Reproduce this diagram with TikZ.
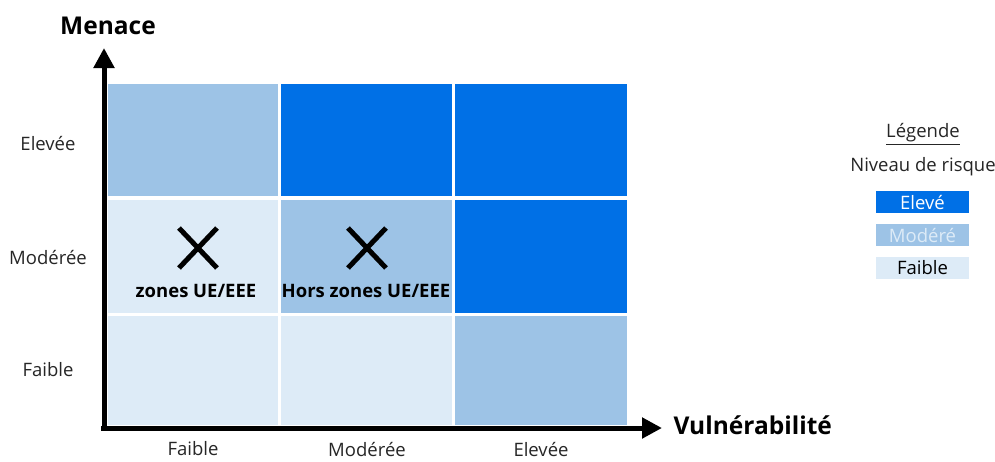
\documentclass[tikz,border=0pt]{standalone}
\usepackage{fontspec}
\setmainfont{Open Sans}
\usetikzlibrary{arrows.meta}
\definecolor{cHigh}{RGB}{0,112,230}
\definecolor{cMid}{RGB}{157,195,230}
\definecolor{cLow}{RGB}{221,235,247}
\tikzset{
  axis/.style={line width=5pt,-{Triangle[length=20pt,width=20pt]}},
  lab/.style={font=\fontsize{18.5}{22}\selectfont,text=black!85},
  axlab/.style={font=\fontsize{24.5}{29}\selectfont\bfseries},
  cross/.style={line width=5pt},
  xtext/.style={font=\fontsize{18.5}{22}\selectfont\bfseries},
  legbox/.style={minimum width=93pt,minimum height=22pt,inner sep=0pt,font=\fontsize{18.5}{21}\selectfont},
}
\begin{document}
\begin{tikzpicture}[x=1pt,y=-1pt]
\useasboundingbox (0,0) rectangle (995,461);
% cells
\fill[cMid]  (108,84) rectangle (278,196);
\fill[cHigh] (281,84) rectangle (452,196);
\fill[cHigh] (455,84) rectangle (627,196);
\fill[cLow]  (108,200) rectangle (278,313);
\fill[cMid]  (281,200) rectangle (452,313);
\fill[cHigh] (455,200) rectangle (627,313);
\fill[cLow]  (108,316) rectangle (278,425);
\fill[cLow]  (281,316) rectangle (452,425);
\fill[cMid]  (455,316) rectangle (627,425);
% axes
\coordinate (o) at (104,430);
\coordinate (ytop) at (104,48);
\coordinate (xend) at (662,428);
\coordinate (ox) at (101,428);
\draw[axis] (o) -- (ytop);
\draw[axis] (ox) -- (xend);
\node[axlab] (menace) at (108,26) {Menace};
\node[axlab,anchor=west] (vuln) at (670,425) {Vulnérabilité};
% row labels
\node[lab] (rH) at (48,143) {Elevée};
\node[lab] (rM) at (48,257) {Modérée};
\node[lab] (rL) at (48,370) {Faible};
% column labels
\node[lab] (cL) at (193,449) {Faible};
\node[lab] (cM) at (367,449) {Modérée};
\node[lab] (cH) at (541,449) {Elevée};
% crosses
\draw[cross] (179,228) -- (217,268) (179,268) -- (217,228);
\draw[cross] (348,228) -- (386,268) (348,268) -- (386,228);
\node[xtext] (z1) at (196,291) {zones UE/EEE};
\node[xtext] (z2) at (366,291) {Hors zones UE/EEE};
% legend
\node[lab] (leg) at (923,134) {\underline{Légende}};
\node[lab] (niv) at (923,167) {Niveau de risque};
\node[legbox,fill=cHigh,text=white] (lH) at (922.5,202) {Elevé};
\node[legbox,fill=cMid,text=cLow] (lM) at (922.5,235) {Modéré};
\node[legbox,fill=cLow,text=black] (lL) at (922.5,267.5) {Faible};
\end{tikzpicture}
\end{document}
